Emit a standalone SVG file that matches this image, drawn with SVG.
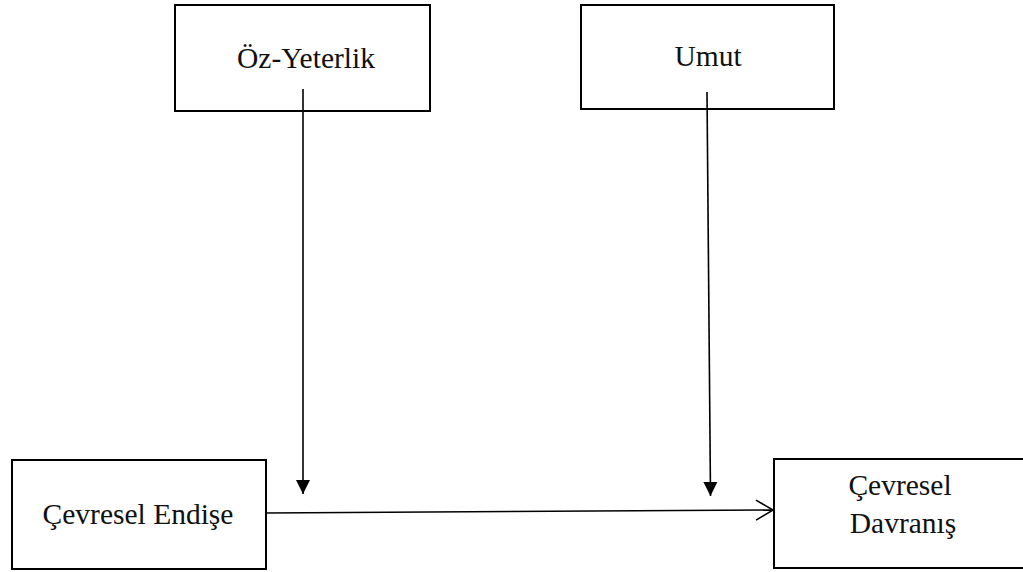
<svg xmlns="http://www.w3.org/2000/svg" width="1023" height="572" viewBox="0 0 1023 572">
<style>
.box{fill:#fff;stroke:#000;stroke-width:2}
.lbl{font-family:"Liberation Serif","Times New Roman",serif;font-size:29.5px;fill:#111;text-anchor:middle}
.ln{stroke:#000;stroke-width:1.6;fill:none}
</style>
<defs>
<marker id="tri" markerWidth="14" markerHeight="16" refX="14" refY="7" orient="auto" markerUnits="userSpaceOnUse" viewBox="0 0 14 14">
<path d="M0,0 L14,7 L0,14 Z" fill="#000"/>
</marker>
<marker id="open" markerWidth="20" markerHeight="24" refX="18" refY="11" orient="auto" markerUnits="userSpaceOnUse" viewBox="0 0 20 22">
<path d="M1,1 L18,11 L1,21" fill="none" stroke="#000" stroke-width="1.6"/>
</marker>
</defs>
<g id="oz-yeterlik">
<rect class="box" x="175" y="5" width="255" height="106"/>
<text class="lbl" x="306" y="68">Öz-Yeterlik</text>
</g>
<g id="umut">
<rect class="box" x="581" y="5" width="253" height="104"/>
<text class="lbl" x="708" y="66">Umut</text>
</g>
<g id="cevresel-endise">
<rect class="box" x="12" y="460" width="254" height="109"/>
<text class="lbl" x="138" y="524">Çevresel Endişe</text>
</g>
<g id="cevresel-davranis">
<rect class="box" x="774" y="459" width="260" height="109"/>
<text class="lbl" x="900" y="495">Çevresel</text>
<text class="lbl" x="903" y="533">Davranış</text>
</g>
<g id="connectors">
<line class="ln" x1="303" y1="89" x2="303" y2="494" marker-end="url(#tri)"/>
<line class="ln" x1="707" y1="92" x2="710.5" y2="496" marker-end="url(#tri)"/>
<line class="ln" x1="266" y1="513" x2="773" y2="510" marker-end="url(#open)"/>
</g>
</svg>
